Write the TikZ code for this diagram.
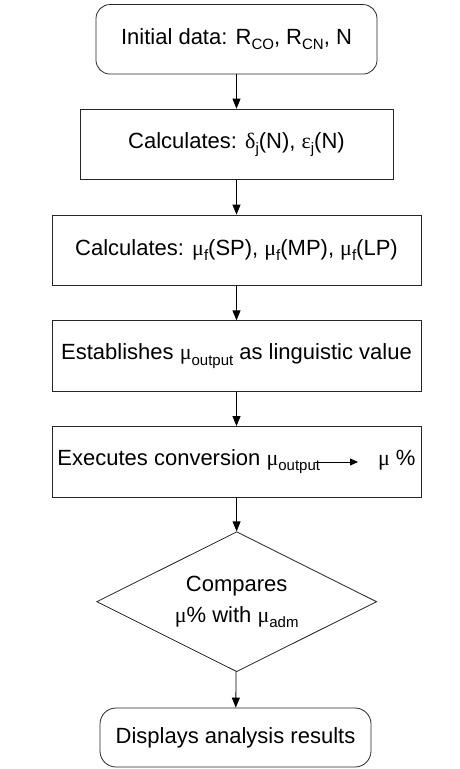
\documentclass[tikz,border=0pt]{standalone}
\usepackage{fontspec}
\setmainfont{Liberation Sans}
\newfontfamily\grk{Liberation Serif}
\usepackage{tikz}
\usetikzlibrary{shapes.geometric,arrows.meta}
\newcommand{\gr}[1]{{\grk #1}}
\newcommand{\lowidx}[1]{\raisebox{-0.45ex}{\fontsize{15}{15}\selectfont #1}}

\begin{document}
\begin{tikzpicture}[
    x=1pt, y=-1pt,
    every node/.style={font=\fontsize{22}{26}\selectfont, inner sep=0pt, draw=black!85},
    terminal/.style={rounded corners=14pt, minimum height=69.5pt},
    process/.style={minimum height=70.5pt},
    decision/.style={diamond, aspect=2, minimum width=280pt, minimum height=140pt,
                     align=center, font=\fontsize{22}{31}\selectfont},
    flow/.style={-{Triangle[length=10pt,width=8pt]}},
    line width=0.8pt
]
\useasboundingbox (0,0) rectangle (459,769);

% start
\node[terminal, minimum width=281pt] (init) at (236.5,39.3) {Initial data: R\lowidx{CO}, R\lowidx{CN}, N};

% calculation steps
\node[process, minimum width=313pt] (calcde) at (236.5,144.3) {Calculates: \gr{δ}\lowidx{j}(N), \gr{ε}\lowidx{j}(N)};
\node[process, minimum width=369pt] (calcmu) at (236.5,250.3) {Calculates: \gr{μ}\lowidx{f}(SP), \gr{μ}\lowidx{f}(MP), \gr{μ}\lowidx{f}(LP)};
\node[process, minimum width=369pt] (estab) at (236.5,356) {Establishes \gr{μ}\lowidx{output} as linguistic value};
\node[process, minimum width=369pt] (conv) at (236.5,461.7) {Executes conversion \gr{μ}\lowidx{output}\hspace{58pt}\gr{μ} \%};

% arrow inside the conversion box
\coordinate (convA) at (315,462);
\coordinate (convB) at (358,462);
\draw[-{Triangle[length=8pt,width=7pt]}] (convA) -- (convB);

% decision
\node[decision] (cmp) at (236.7,601.7) {Compares\\\gr{μ}\% with \gr{μ}\lowidx{adm}};

% end
\node[terminal, minimum width=271pt, minimum height=59pt, rounded corners=16pt] (show) at (235.5,737.5) {Displays analysis results};

% connections
\draw[flow] (init) -- (calcde);
\draw[flow] (calcde) -- (calcmu);
\draw[flow] (calcmu) -- (estab);
\draw[flow] (estab) -- (conv);
\draw[flow] (conv) -- (cmp);
\draw[flow] (cmp) -- (show);

\end{tikzpicture}
\end{document}
